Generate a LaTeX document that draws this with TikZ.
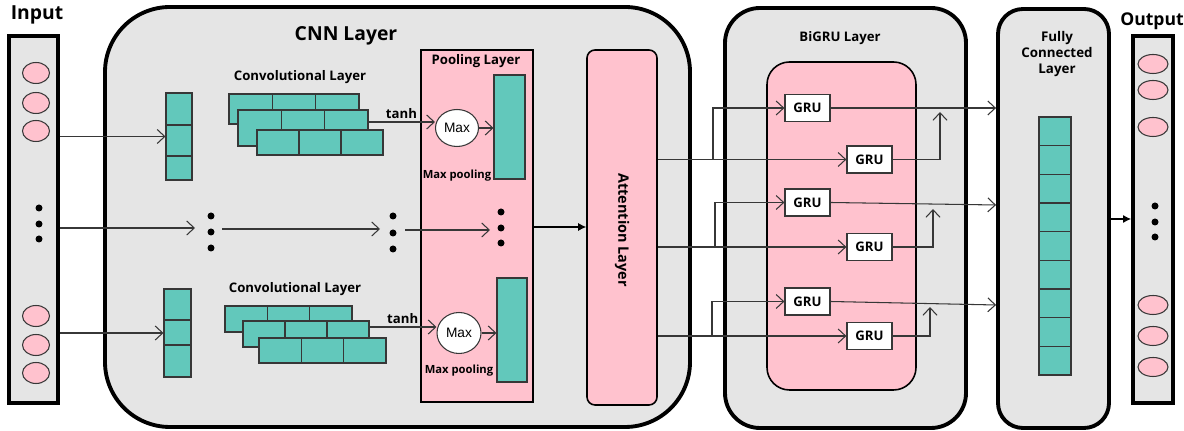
\documentclass[tikz,border=0pt]{standalone}
\usepackage{fontspec}
\setmainfont{Open Sans}
\newfontfamily\maxfont{Liberation Sans}
\usetikzlibrary{arrows.meta,fit,shapes.geometric}
\definecolor{panel}{RGB}{229,229,229}
\definecolor{pinkf}{RGB}{255,194,206}
\definecolor{tealf}{RGB}{98,200,187}
\definecolor{lineg}{RGB}{55,55,55}
\begin{document}
\begin{tikzpicture}[x=0.02cm,y=-0.02cm,
  thickbox/.style={draw=black,line width=2.2pt,fill=panel,inner sep=0pt},
  pinkbox/.style={draw=black,line width=0.9pt,fill=pinkf,inner sep=0pt},
  cell/.style={draw=lineg,line width=0.6pt,fill=tealf,inner sep=0pt},
  grubox/.style={draw=lineg,line width=0.7pt,fill=white,inner sep=0pt,minimum width=0.9cm,minimum height=0.54cm,font=\bfseries\fontsize{7.5}{9}\selectfont},
  ball/.style={draw=lineg,line width=0.6pt,fill=pinkf},
  maxnode/.style={ellipse,draw=lineg,line width=0.6pt,fill=white,inner sep=0pt,font=\maxfont\fontsize{7.8}{9}\selectfont},
  lbl/.style={font=\bfseries\fontsize{7.5}{9}\selectfont,inner sep=0pt},
  biglbl/.style={font=\bfseries\fontsize{11}{13}\selectfont,inner sep=0pt},
  dotgrp/.style={inner sep=0pt,minimum width=0.2cm,minimum height=0.8cm},
  arr/.style={draw=lineg,line width=0.6pt,-{Straight Barb[length=1.5mm,width=2.8mm]}},
  farr/.style={draw=black,line width=0.6pt,-{Latex[length=1.6mm,width=1.6mm]}},
  ln/.style={draw=lineg,line width=0.6pt}]
\useasboundingbox (0,0) rectangle (1184,431);
\fill[white] (0,0) rectangle (1184,431);

% ---------- Input ----------
\node[biglbl] (inlbl) at (37,15) {Input};
\node[thickbox,fit={(9,36)(58,403)}] (inbox) {};
\foreach \yy in {73,103,131,316,345,373}
  \draw[ball] (36,\yy) ellipse [x radius=0.27cm,y radius=0.21cm];
\foreach \yy in {208,224,239}
  \fill (39,\yy) circle [radius=0.07cm];

% ---------- CNN layer ----------
\node[thickbox,rounded corners=1.3cm,fit={(105,7)(690,427)}] (cnn) {};
\node[biglbl] (cnnlbl) at (346,36) {CNN Layer};

% input columns
\node[cell,fit={(166,93)(192,180)}] (colA) {};
\draw[ln] (166,125) -- (192,125) (166,156) -- (192,156);
\node[cell,fit={(164,289)(191,377)}] (colB) {};
\draw[ln] (164,320) -- (191,320) (164,345) -- (191,345);

\node[lbl] (convA) at (300,77) {Convolutional Layer};
\node[lbl] (convB) at (295,289) {Convolutional Layer};

\foreach \xa/\ya/\xb/\yb in {229/94/359/124,238/110/368/146,257/130/383/155,225/306/352/332,243/321/369/347,259/338/386/363}{
  \pgfmathsetmacro\w{(\xb-\xa)/3}
  \foreach \i in {0,1,2}
    \draw[cell] ({\xa+\i*\w},\ya) rectangle ({\xa+(\i+1)*\w},\yb);
}
\coordinate (convAout) at (368,122);
\coordinate (convBout) at (369,327);

% pooling layer
\node[pinkbox,fit={(421,50)(533,402)}] (pool) {};
\node[lbl] (poollbl) at (476,61) {Pooling Layer};
\node[maxnode,minimum width=0.86cm,minimum height=0.74cm] (maxA) at (457,128) {Max};
\node[maxnode,minimum width=0.88cm,minimum height=0.82cm] (maxB) at (459,333) {Max};
\node[cell,fit={(494,75)(525,179)}] (poolA) {};
\node[cell,fit={(497,278)(527,382)}] (poolB) {};
\node[lbl,font=\bfseries\fontsize{6.4}{8}\selectfont] (mpA) at (457,176) {Max pooling};
\node[lbl,font=\bfseries\fontsize{6.4}{8}\selectfont] (mpB) at (459,371) {Max pooling};

\draw[arr] (convAout) -- (maxA.west |- convAout) node[lbl,midway,above=1.5pt] (tanhA) {tanh};
\draw[arr] (convBout) -- (maxB.west |- convBout) node[lbl,midway,above=1.5pt] (tanhB) {tanh};
\draw[arr] (maxA.east) -- (poolA.west |- maxA.east);
\draw[arr] (maxB.east) -- (poolB.west |- maxB.east);

% dots
\node[dotgrp] (dA) at (211,232) {};
\node[dotgrp] (dB) at (393,233) {};
\node[dotgrp] (dC) at (501,228) {};
\foreach \xx/\yy in {211/216,211/232,211/248,393/216,393/233,393/249,501/212,501/228,501/243}
  \fill (\xx,\yy) circle [radius=0.07cm];

\draw[arr] (inbox.east |- colA.center) -- (colA.west |- colA.center);
\draw[arr] (inbox.east |- 0,228) -- (195,228);
\draw[arr] (inbox.east |- 0,333) -- (colB.west |- 0,333);
\draw[arr] (222,229) -- (380,229);
\draw[arr] (405,230) -- (490,230);

% attention
\node[pinkbox,rounded corners=0.16cm,fit={(587,50)(657,405)}] (att) {};
\node[lbl,font=\bfseries\fontsize{8.2}{10}\selectfont,rotate=-90] (attlbl) at (622,230) {Attention Layer};
\draw[farr] (pool.east |- 0,227) -- (att.west |- 0,227);

% ---------- BiGRU ----------
\node[thickbox,rounded corners=0.7cm,fit={(725,8)(966,428)}] (bigru) {};
\node[lbl] (bigrulbl) at (840,38) {BiGRU Layer};
\node[pinkbox,rounded corners=0.45cm,fit={(767,62)(916,390)}] (inner) {};

\node[grubox] (g1) at (807.5,108) {GRU};
\node[grubox] (g2) at (869.5,159.5) {GRU};
\node[grubox] (g3) at (807.5,202.5) {GRU};
\node[grubox] (g4) at (869.5,247) {GRU};
\node[grubox] (g5) at (807.5,301.5) {GRU};
\node[grubox] (g6) at (869.5,336) {GRU};

\draw[arr] (att.east |- g2.west) -- (g2.west);
\draw[arr] (713,0 |- g2.west) -- (713,0 |- g1.west) -- (g1.west);
\draw[arr] (att.east |- g4.west) -- (g4.west);
\draw[arr] (715,0 |- g4.west) -- (715,0 |- g3.west) -- (g3.west);
\draw[arr] (att.east |- g6.west) -- (g6.west);
\draw[arr] (712,0 |- g6.west) -- (712,0 |- g5.west) -- (g5.west);

% ---------- Fully connected ----------
\node[thickbox,rounded corners=0.5cm,fit={(998,9)(1109,428)}] (fc) {};
\node[lbl,font=\bfseries\fontsize{7.6}{9.2}\selectfont,align=center] (fclbl) at (1057,54) {Fully\\Connected\\Layer};
\node[cell,fit={(1039,117)(1071,375)}] (fccol) {};
\foreach \i in {1,...,8}
  \draw[ln] (1039,{117+\i*258/9}) -- (1071,{117+\i*258/9});

\draw[arr] (g1.east) -- (fc.west |- g1.east);
\draw[arr] (g3.east) -- (fc.west |- 0,205);
\draw[arr] (g5.east) -- (fc.west |- 0,305);
\draw[arr] (g2.east) -- (940,0 |- g2.east) -- (940,112);
\draw[arr] (g4.east) -- (933,0 |- g4.east) -- (933,209);
\draw[arr] (g6.east) -- (930,0 |- g6.east) -- (930,307);

% ---------- Output ----------
\node[thickbox,fit={(1133,36)(1173,403)}] (outbox) {};
\node[biglbl,font=\bfseries\fontsize{10}{12}\selectfont] (outlbl) at (1152,21) {Output};
\foreach \yy in {64,90,127,305,336,367}
  \draw[ball] (1153,\yy) ellipse [x radius=0.3cm,y radius=0.19cm];
\foreach \yy in {206,222,237}
  \fill (1155,\yy) circle [radius=0.07cm];
\draw[farr] (fc.east |- 0,219) -- (outbox.west |- 0,219);
\end{tikzpicture}
\end{document}
